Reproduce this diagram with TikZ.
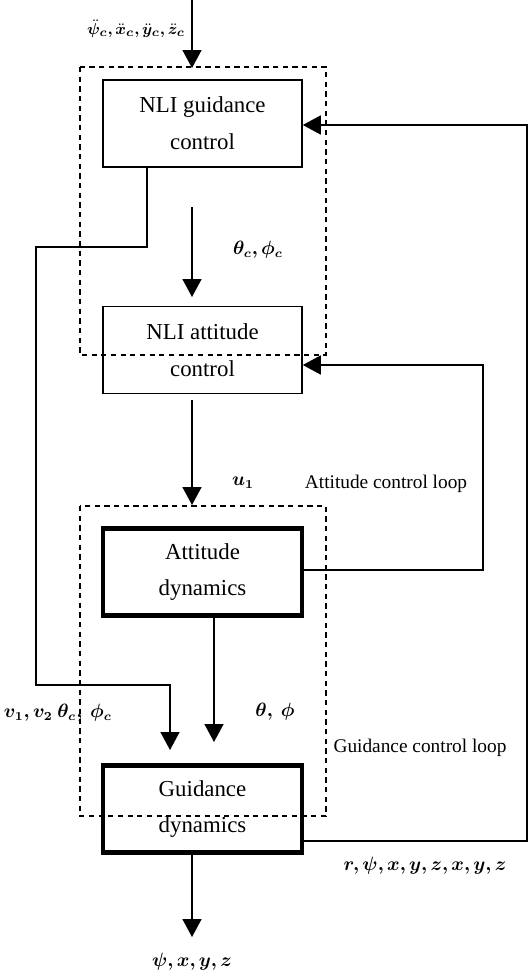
\documentclass[tikz,border=0pt]{standalone}
\usepackage{fontspec}
\setmainfont{Liberation Serif}
\usepackage{amsmath,bm}
\usetikzlibrary{arrows.meta}

\begin{document}
\begin{tikzpicture}
    [ x=0.02cm, y=-0.02cm
    , block/.style={draw,line width=0.9pt,minimum width=3.98cm,minimum height=1.74cm,align=center,font=\fontsize{13}{21}\selectfont}
    , dyn/.style={block,line width=2.8pt}
    , loopbox/.style={draw,line width=1pt,dash pattern=on 3pt off 2.5pt}
    , wire/.style={line width=0.9pt}
    , sig/.style={wire,-{Triangle[length=3.6mm,width=3.8mm]}}
    , lbl/.style={font=\fontsize{10.5}{12}\selectfont}
    , note/.style={font=\fontsize{11}{12}\selectfont}
    ]

    \useasboundingbox (0,0) rectangle (529,980);

    % blocks
    \node [block] (gc) at (202.5,123.5) {NLI guidance\\control};
    \node [block] (ac) at (202.5,350)   {NLI attitude\\control};
    \node [dyn]   (ad) at (202.5,572)   {Attitude\\dynamics};
    \node [dyn]   (gd) at (202.5,809)   {Guidance\\dynamics};

    % loops
    \draw [loopbox] (80,67)  rectangle (326,355);
    \draw [loopbox] (80,506) rectangle (326,816);

    \coordinate (in)   at (192,0);
    \coordinate (inA)  at (192,68);
    \coordinate (tc0)  at (192,207);
    \coordinate (tc1)  at (192,297);
    \coordinate (u0)   at (192,400);
    \coordinate (u1)   at (192,505);
    \coordinate (th1)  at (214,742);
    \coordinate (vc1)  at (170,750);
    \coordinate (out1) at (192,937);

    \draw [sig] (in) -- (inA);
    \draw [sig] (tc0) -- (tc1);
    \draw [sig] (u0) -- (u1);
    \draw [sig] (ad.south -| th1) -- (th1);
    \draw [sig] (gd.south -| out1) -- (out1);

    % outer paths
    \draw [sig] (gc.south -| 147,0) |- (36,247) |- (170,685) -- (vc1);
    \draw [sig] (ad.east |- 0,570) -| (483,365) -- (ac.east |- 0,365);
    \draw [sig] (gd.east |- 0,841) -| (527,125) -- (gc.east |- 0,125);

    % labels
    \node [lbl,font=\fontsize{9.5}{11}\selectfont] (lin) at (136,29) {$\bm{\ddot\psi_c,\ddot x_c,\ddot y_c,\ddot z_c}$};
    \node [lbl] (ltc)  at (258,250) {$\bm{\theta_c,\phi_c}$};
    \node [lbl] (lu)   at (243,483) {$\bm{u_1}$};
    \node [note] (lacl) at (386,484) {Attitude control loop};
    \node [lbl] (lth)  at (275,712) {$\bm{\theta,\ \phi}$};
    \node [lbl] (lvc)  at (58,713)  {$\bm{v_1,v_2\ \theta_c,\ \phi_c}$};
    \node [note] (lgcl) at (420,748) {Guidance control loop};
    \node [lbl] (lst)  at (425,866) {$\bm{r,\psi,x,y,z,x,y,z}$};
    \node [lbl] (lout) at (192,962) {$\bm{\psi,x,y,z}$};
\end{tikzpicture}
\end{document}
